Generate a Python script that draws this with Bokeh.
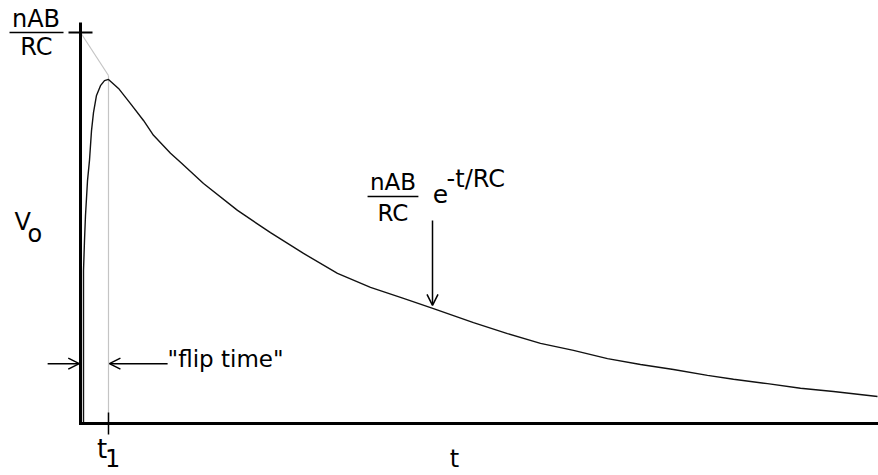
from bokeh.plotting import figure
from bokeh.models import Range1d, Arrow, OpenHead
from bokeh.core.properties import value
from bokeh.embed import file_html
from bokeh.resources import INLINE

# time in units of RC, voltage in units of nAB/RC
t_curve = [0.0097, 0.0097, 0.0097, 0.0129, 0.0161, 0.0226, 0.0290, 0.0355, 0.0419,
           0.0516, 0.0645, 0.0774, 0.0903, 0.1226, 0.1613, 0.2032, 0.2355, 0.2903,
           0.3226, 0.3968, 0.5065, 0.6129, 0.7194, 0.8290, 0.9355, 1.0419, 1.1387,
           1.2677, 1.3774, 1.4839, 1.5903, 1.7000, 1.8065, 1.9129, 2.0226, 2.1065,
           2.2161, 2.3226, 2.4290, 2.5710]
v_curve = [0.000, 0.294, 0.391, 0.468, 0.532, 0.621, 0.673, 0.749, 0.795,
           0.839, 0.864, 0.877, 0.880, 0.857, 0.818, 0.775, 0.737, 0.691,
           0.668, 0.614, 0.545, 0.488, 0.435, 0.384, 0.348, 0.320, 0.294,
           0.258, 0.230, 0.205, 0.187, 0.166, 0.151, 0.138, 0.123, 0.113,
           0.102, 0.090, 0.082, 0.069]
t1 = 0.0903          # flip time
v0 = 1.0             # nAB/RC at t = 0
tangent_t = [0.0, t1]
tangent_v = [1.0, 0.89]
t_max = 2.60

FONT = value("DejaVu Sans")

p = figure(width=878, height=475, output_backend="svg", toolbar_location=None,
           x_range=Range1d(-80 / 310, 798 / 310), y_range=Range1d(-52 / 391, 423 / 391),
           x_axis_type=None, y_axis_type=None, min_border=0,
           outline_line_color=None, background_fill_color="white",
           border_fill_color="white")
p.grid.visible = False

# gray construction lines
p.line(tangent_t, tangent_v, line_color="#c4c4c4", line_width=1.2)
p.segment(x0=[t1], y0=[tangent_v[1]], x1=[t1], y1=[0.0], line_color="#c4c4c4", line_width=1.2)

# curve
p.line(t_curve, v_curve, line_color="#111111", line_width=1.4)

# axes
p.segment(x0=[0.0], y0=[-0.004], x1=[0.0], y1=[1.0256], line_color="black", line_width=3)
p.segment(x0=[-0.004], y0=[0.0], x1=[t_max], y1=[0.0], line_color="black", line_width=3)
# ticks
p.segment(x0=[-0.0387], y0=[v0], x1=[0.0387], y1=[v0], line_color="black", line_width=2)
p.segment(x0=[t1], y0=[0.028], x1=[t1], y1=[-0.028], line_color="black", line_width=1.5)

# fraction bars
p.segment(x0=[-0.229, 0.926], y0=[v0, 0.5806], x1=[-0.0548, 1.090], y1=[v0, 0.5806],
          line_color="black", line_width=1.5)

def txt(x, y, s, size, align="left"):
    p.text(x=[x], y=[y], text=[s], text_font=FONT, text_font_size=value(size),
           text_align=align, text_baseline="alphabetic", text_color="black")

# top-left nAB/RC
txt(-0.1435, 1.0343, "nAB", "24px", "center")
txt(-0.1420, 0.9627, "RC", "24px", "center")
# V_o
txt(-0.2130, 0.5151, "V", "24px")
txt(-0.1710, 0.4844, "o", "24px")
# t1
txt(0.0530, -0.0662, "t", "26px")
txt(0.0790, -0.0890, "1", "24px")
# t
txt(1.2065, -0.0900, "t", "24px", "center")
# flip time
txt(0.2810, 0.1637, '"flip time"', "23px")
# middle formula
txt(1.0080, 0.6164, "nAB", "23px", "center")
txt(1.0080, 0.5396, "RC", "23px", "center")
txt(1.1360, 0.5876, "e", "25px")
txt(1.1810, 0.6251, "-t/RC", "24px")

# arrows
p.add_layout(Arrow(end=OpenHead(size=11, line_width=1.5, line_color="black"),
                   x_start=1.1355, y_start=0.519, x_end=1.1355, y_end=0.302,
                   line_color="black", line_width=1.5))
p.add_layout(Arrow(end=OpenHead(size=11, line_width=1.5, line_color="black"),
                   x_start=-0.106, y_start=0.153, x_end=-0.004, y_end=0.153,
                   line_color="black", line_width=1.5))
p.add_layout(Arrow(end=OpenHead(size=11, line_width=1.5, line_color="black"),
                   x_start=0.281, y_start=0.153, x_end=t1 + 0.003, y_end=0.153,
                   line_color="black", line_width=1.5))

open("out.html", "w").write(file_html(p, INLINE))
